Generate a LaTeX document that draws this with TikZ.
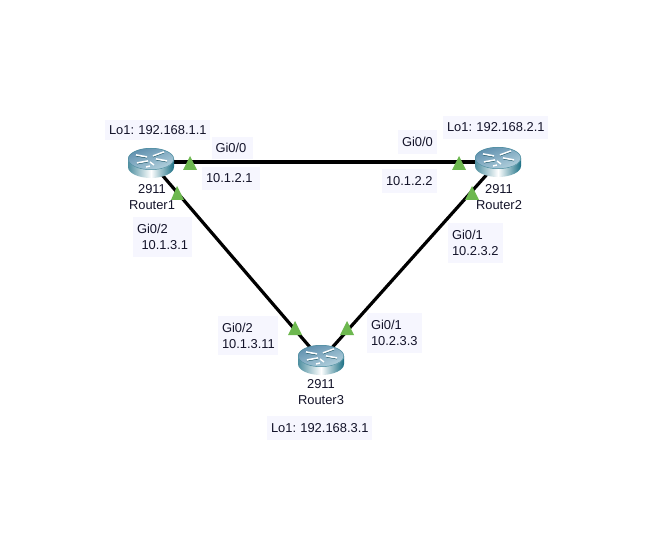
\documentclass[tikz,border=0pt]{standalone}
\usepackage{fontspec}
\setmainfont{Liberation Sans}
\definecolor{lblbg}{HTML}{F6F6FE}
\definecolor{lbltxt}{HTML}{14142A}
\definecolor{mark}{HTML}{6DB84F}
\definecolor{rdark}{HTML}{4E8FA0}
\definecolor{rdarker}{HTML}{1A6F84}
\definecolor{rtopa}{HTML}{5F8FAE}
\definecolor{rtopb}{HTML}{B4D2DE}
\tikzset{
  x=1pt,y=-1pt,
  lbl/.style 2 args={fill=lblbg,text=lbltxt,font=\fontsize{12.9}{16}\selectfont,align=left,
    text width=#1pt-8pt,inner xsep=4pt,inner ysep=0pt,minimum height=#2pt,draw=none,anchor=center},
  rcap/.style={text=lbltxt,font=\fontsize{12.9}{16}\selectfont,align=center,inner sep=0pt},
  link/.style={draw=black,line width=3.2pt},
  hub/.style={inner sep=0pt,minimum size=0pt},
  tri/.style={fill=mark,draw=none},
  router/.pic={
    \path[left color=rdark,right color=rdarker,middle color=white]
      (-23,-4) -- (-23,4) arc[start angle=180,end angle=360,x radius=23,y radius=-11] -- (23,-4) -- cycle;
    \path[left color=rtopa,right color=rtopb,shading angle=20] (0,-4) ellipse[x radius=23,y radius=11];
    \draw[rdark,line width=.5pt] (0,-4) ellipse[x radius=22.7,y radius=10.7];
    \foreach \a/\b/\c/\d in {-15/-8/-4/-6,-3/-2/-14/0, 2/-7/13/-11, 16/-2/5/-4}{
      \draw[white,line width=1.7pt] (\a,\b) -- (\c,\d);
      \draw[rdarker!70!black,line width=.4pt] (\a,\b+1.1) -- (\c,\d+1.1);
    }
    \draw[white,line width=1.4pt] (3,2) -- (-1,-1) (-1,3) -- (-5,4);
  }
}
\begin{document}
\begin{tikzpicture}
\useasboundingbox[fill=white] (0,0) rectangle (655,553);
% hubs
\node[hub] (r1) at (151,162) {};
\node[hub] (r2) at (498,162) {};
\node[hub] (r3) at (321,360) {};
% links
\draw[link] (r1.center) -- (r2.center);
\draw[link] (r1.center) -- (r3.center);
\draw[link] (r2.center) -- (r3.center);
% routers
\pic at (151,163) {router};
\pic at (498,162) {router};
\pic at (321,360) {router};
% labels
\node[lbl={105}{20}] (l1) at (157.5,130) {Lo1:~192.168.1.1};
\node[lbl={105}{23}] (l2) at (495.5,127.5) {Lo1:~192.168.2.1};
\node[lbl={105}{24}] (l3) at (319.5,428) {Lo1:~192.168.3.1};
\node[lbl={41}{22}] (g1) at (232,148) {Gi0/0};
\node[lbl={58}{23}] (i1) at (231,178.5) {10.1.2.1};
\node[lbl={39}{24}] (g2) at (417.5,142) {Gi0/0};
\node[lbl={55}{24}] (i2) at (409.5,181) {10.1.2.2};
\node[lbl={59}{40}] (g3) at (162.5,237) {Gi0/2\\\hspace*{4.5pt}10.1.3.1};
\node[lbl={55}{40}] (g4) at (475.5,243) {Gi0/1\\10.2.3.2};
\node[lbl={60}{39}] (g5) at (248,335.5) {Gi0/2\\10.1.3.11};
\node[lbl={55}{40}] (g6) at (394.5,333) {Gi0/1\\10.2.3.3};
% router captions
\node[rcap] (c1) at (152,197) {2911\\Router1};
\node[rcap] (c2) at (499,197) {2911\\Router2};
\node[rcap] (c3) at (321,392) {2911\\Router3};
% port markers
\fill[tri] (190,156) -- (197,170) -- (183,170) -- cycle;
\fill[tri] (177,186) -- (184,200) -- (171,200) -- cycle;
\fill[tri] (459,156) -- (466,170) -- (452,170) -- cycle;
\fill[tri] (472,186) -- (479,200) -- (465,200) -- cycle;
\fill[tri] (295,321) -- (302,335) -- (288,335) -- cycle;
\fill[tri] (347,321) -- (354,335) -- (340,335) -- cycle;
\end{tikzpicture}
\end{document}
